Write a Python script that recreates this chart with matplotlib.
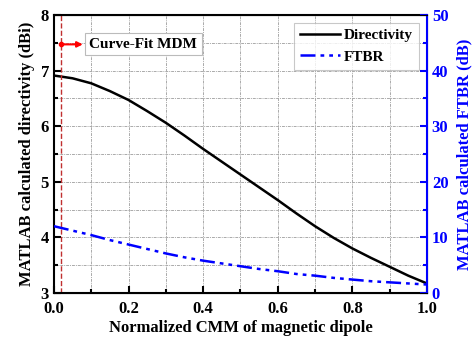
import numpy as np
import matplotlib.pyplot as plt

plt.rcParams['font.family'] = 'Liberation Serif'
plt.rcParams['font.weight'] = 'bold'

# Valores (passo de 0.05)
cmm = [0.0, 0.05, 0.1, 0.15, 0.2, 0.25, 0.3, 0.35, 0.4, 0.45, 0.5,
       0.55, 0.6, 0.65, 0.7, 0.75, 0.8, 0.85, 0.9, 0.95, 1.0]
directivity = [6.91, 6.86, 6.77, 6.63, 6.47, 6.27, 6.06, 5.83, 5.59, 5.36, 5.13,
               4.90, 4.67, 4.43, 4.20, 3.99, 3.80, 3.63, 3.47, 3.31, 3.17]
ftbr = [12.0, 11.2, 10.4, 9.5, 8.7, 7.9, 7.1, 6.4, 5.8, 5.3, 4.8,
        4.3, 3.9, 3.4, 3.1, 2.7, 2.4, 2.1, 1.9, 1.7, 1.5]

mdm_x = 0.02
mdm_y = 7.47

fig = plt.figure(figsize=(4.77, 3.39), dpi=100)
ax = fig.add_axes([0.113, 0.136, 0.782, 0.82])
ax2 = ax.twinx()

l1, = ax.plot(cmm, directivity, color='black', lw=1.8, label='Directivity')
l2, = ax2.plot(cmm, ftbr, color='blue', lw=1.8, ls=(0, (6, 2, 1.5, 2, 1.5, 2)), label='FTBR')

ax.set_xlim(0, 1)
ax.set_ylim(3, 8)
ax2.set_ylim(0, 50)

ax.set_xticks(np.arange(0, 1.01, 0.2))
ax.set_xticks(np.arange(0.1, 1.0, 0.2), minor=True)
ax.set_yticks(np.arange(3, 8.1, 1))
ax.set_yticks(np.arange(3.5, 8, 1), minor=True)
ax2.set_yticks(np.arange(0, 51, 10))
ax2.set_yticks(np.arange(5, 50, 10), minor=True)

ax.grid(True, which='both', color='#aaaaaa', ls=(0, (3, 1, 1, 1)), lw=0.7)
ax.tick_params(which='both', direction='in', labelsize=12, width=1.5)
ax.tick_params(which='major', length=5)
ax.tick_params(which='minor', length=3)
ax.tick_params(axis='x', pad=6)
ax2.tick_params(which='both', direction='in', colors='blue', labelsize=12, width=1.5)
ax2.tick_params(which='major', length=5)
ax2.tick_params(which='minor', length=3)

for s in ['left', 'bottom', 'top']:
    ax.spines[s].set_linewidth(1.5)
ax2.spines['right'].set_color('blue')
ax2.spines['right'].set_linewidth(1.5)
ax2.spines['left'].set_visible(False)

ax.set_xlabel('Normalized CMM of magnetic dipole', fontsize=12, fontweight='bold', labelpad=2)
ax.set_ylabel('MATLAB calculated directivity (dBi)', fontsize=12, fontweight='bold')
ax2.set_ylabel('MATLAB calculated FTBR (dB)', fontsize=12, fontweight='bold', color='blue', labelpad=6)

# linha do MDM
ax.axvline(mdm_x, color='#c03030', ls='--', lw=1)
ax.annotate('', xy=(mdm_x + 0.065, mdm_y), xytext=(mdm_x, mdm_y),
            arrowprops=dict(arrowstyle='-|>', color='red', lw=1.5, mutation_scale=8))
ax.plot([mdm_x], [mdm_y], 'o', color='red', ms=3)
ax.text(0.095, mdm_y, 'Curve-Fit MDM', fontsize=11, fontweight='bold', va='center', ha='left',
        bbox=dict(boxstyle='square,pad=0.3', fc='white', ec='#bbbbbb', lw=0.8))

leg = ax.legend([l1, l2], ['Directivity', 'FTBR'], loc='upper right', fontsize=11,
                frameon=True, fancybox=False, edgecolor='#bbbbbb', handlelength=2.6,
                handletextpad=0.3, borderaxespad=0.5)
leg.get_frame().set_linewidth(0.8)

fig.savefig('out.png', dpi=100)
